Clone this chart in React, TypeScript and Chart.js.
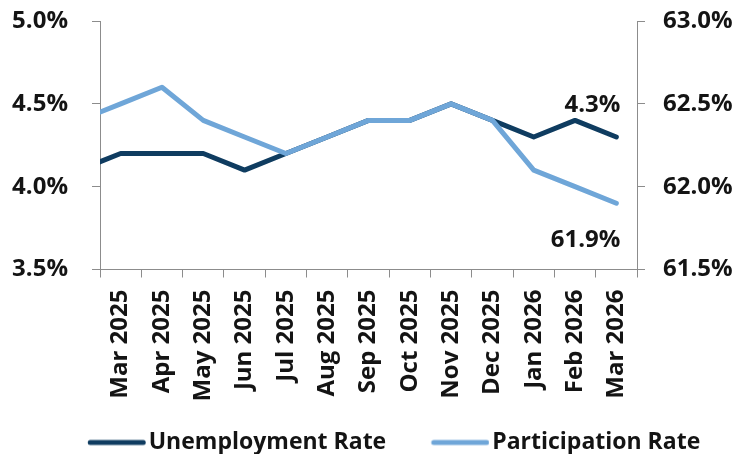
import { useEffect, useRef } from 'react';
import { Chart, registerables } from 'chart.js';

Chart.register(...registerables);

// Categories (first one lies just left of the visible range, as in the source)
const categories = [
  'Feb 2025', 'Mar 2025', 'Apr 2025', 'May 2025', 'Jun 2025', 'Jul 2025', 'Aug 2025',
  'Sep 2025', 'Oct 2025', 'Nov 2025', 'Dec 2025', 'Jan 2026', 'Feb 2026', 'Mar 2026',
];
const unemploymentRate = [4.1, 4.2, 4.2, 4.2, 4.1, 4.2, 4.3, 4.4, 4.4, 4.5, 4.4, 4.3, 4.4, 4.3];
const participationRate = [62.4, 62.5, 62.6, 62.4, 62.3, 62.2, 62.3, 62.4, 62.4, 62.5, 62.4, 62.1, 62.0, 61.9];
const leftAxisTicks = [3.5, 4.0, 4.5, 5.0];
const rightAxisTicks = [61.5, 62.0, 62.5, 63.0];

const FONT = "'Open Sans', 'Noto Sans', sans-serif";
const DARK = '#0f3c60';
const LIGHT = '#6fa6d8';
const AXIS = '#8c8c8c';
const TEXT = '#141414';

function legendLine(color: string): HTMLCanvasElement {
  const c = document.createElement('canvas');
  c.width = 95;
  c.height = 8;
  const ctx = c.getContext('2d')!;
  ctx.strokeStyle = color;
  ctx.lineWidth = 5;
  ctx.lineCap = 'round';
  ctx.beginPath();
  ctx.moveTo(39.25, 4);
  ctx.lineTo(92.25, 4);
  ctx.stroke();
  return c;
}

const endLabels = {
  id: 'endLabels',
  afterDatasetsDraw(chart: any) {
    const ctx = chart.ctx;
    ctx.save();
    ctx.font = `bold 24px ${FONT}`;
    ctx.fillStyle = TEXT;
    ctx.textAlign = 'right';
    ctx.textBaseline = 'middle';
    chart.data.datasets.forEach((ds: any, i: number) => {
      const meta = chart.getDatasetMeta(i);
      const pt = meta.data[meta.data.length - 1];
      const v = ds.data[ds.data.length - 1];
      const dy = i === 0 ? -32 : 37;
      ctx.fillText(Number(v).toFixed(1) + '%', pt.x + 4, pt.y + dy);
    });
    ctx.restore();
  },
};

export default function App() {
  const ref = useRef<HTMLCanvasElement | null>(null);

  useEffect(() => {
    if (!ref.current) return;
    const tickFont = { family: FONT, size: 24, weight: 'bold' as const };
    const gridOpts = {
      display: true,
      drawOnChartArea: false,
      drawTicks: true,
      tickLength: 8,
      color: AXIS,
      lineWidth: 1,
    };
    const chart = new Chart(ref.current, {
      type: 'line',
      data: {
        labels: categories,
        datasets: [
          {
            label: 'Unemployment Rate',
            data: unemploymentRate,
            yAxisID: 'y',
            borderColor: DARK,
            backgroundColor: DARK,
            borderWidth: 5,
            pointRadius: 0,
            pointHoverRadius: 0,
            pointStyle: legendLine(DARK) as any,
            tension: 0,
            borderCapStyle: 'round',
            borderJoinStyle: 'round',
            order: 1,
          },
          {
            label: 'Participation Rate',
            data: participationRate,
            yAxisID: 'y2',
            borderColor: LIGHT,
            backgroundColor: LIGHT,
            borderWidth: 5,
            pointRadius: 0,
            pointHoverRadius: 0,
            pointStyle: legendLine(LIGHT) as any,
            tension: 0,
            borderCapStyle: 'round',
            borderJoinStyle: 'round',
            order: 0,
          },
        ],
      },
      options: {
        responsive: false,
        animation: false,
        devicePixelRatio: 1,
        events: [],
        layout: { padding: { top: 21, left: 0, right: 0, bottom: 0 } },
        scales: {
          x: {
            type: 'category',
            min: categories[1],
            max: categories[categories.length - 1],
            offset: true,
            grid: { ...gridOpts, offset: true },
            border: { display: true, color: AXIS, width: 1 },
            ticks: {
              autoSkip: false,
              maxRotation: 90,
              minRotation: 90,
              padding: 12,
              color: TEXT,
              font: tickFont,
            },
            afterFit: (s: any) => { s.height = 144.5; s.paddingLeft = 0; s.paddingRight = 0; },
          },
          y: {
            position: 'left',
            min: leftAxisTicks[0],
            max: leftAxisTicks[leftAxisTicks.length - 1],
            grid: gridOpts,
            border: { display: true, color: AXIS, width: 1 },
            ticks: {
              stepSize: 0.5,
              padding: 24,
              color: TEXT,
              font: tickFont,
              callback: (v: any) => Number(v).toFixed(1) + '%',
            },
            afterFit: (s: any) => { s.width = 100; s.paddingTop = 0; s.paddingBottom = 0; },
          },
          y2: {
            position: 'right',
            min: rightAxisTicks[0],
            max: rightAxisTicks[rightAxisTicks.length - 1],
            grid: gridOpts,
            border: { display: true, color: AXIS, width: 1 },
            ticks: {
              stepSize: 0.5,
              padding: 18,
              color: TEXT,
              font: tickFont,
              callback: (v: any) => Number(v).toFixed(1) + '%',
            },
            afterFit: (s: any) => { s.width = 123; s.paddingTop = 0; s.paddingBottom = 0; },
          },
        },
        plugins: {
          tooltip: { enabled: false },
          legend: {
            display: true,
            position: 'bottom',
            align: 'center',
            labels: {
              usePointStyle: true,
              pointStyleWidth: 77.5,
              boxHeight: 8,
              padding: 17,
              color: TEXT,
              font: { family: FONT, size: 23, weight: 'bold' },
              sort: (a: any, b: any) => a.datasetIndex - b.datasetIndex,
            },
          },
        },
      } as any,
      plugins: [endLabels],
    });
    return () => chart.destroy();
  }, []);

  return (
    <div style={{ position: 'fixed', left: 0, top: 0, width: 737, height: 454, overflow: 'hidden', background: '#fff' }}>
      <canvas ref={ref} width={760} height={464} style={{ width: 760, height: 464, display: 'block' }} />
    </div>
  );
}
